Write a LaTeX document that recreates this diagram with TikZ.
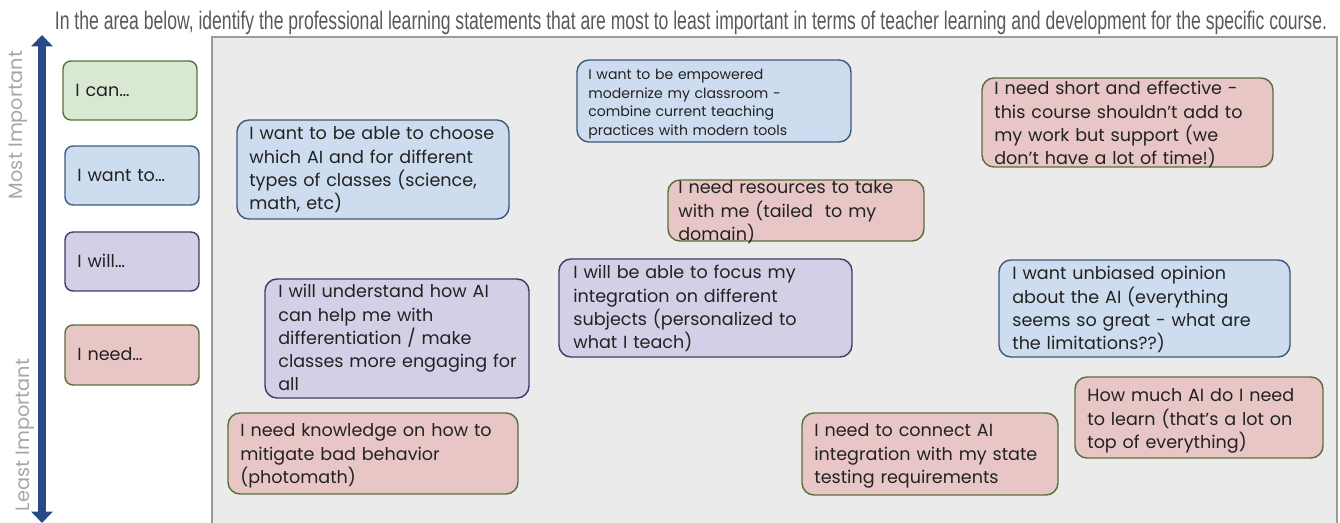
\documentclass[tikz,border=0pt]{standalone}
\usepackage{fontspec}
\setmainfont{Poppins}
\newfontfamily\headfont[FakeStretch=0.69]{Liberation Sans}
\usetikzlibrary{fit}
\usetikzlibrary{calc}
\usetikzlibrary{arrows.meta}
\definecolor{canfill}{HTML}{D9E8D3}
\definecolor{canedge}{HTML}{56703A}
\definecolor{wantfill}{HTML}{CEDCEF}
\definecolor{wantedge}{HTML}{40597F}
\definecolor{willfill}{HTML}{D4CFE6}
\definecolor{willedge}{HTML}{3E3A6A}
\definecolor{needfill}{HTML}{E8C6C5}
\definecolor{neededge}{HTML}{5B6E39}
\definecolor{boardfill}{HTML}{EBEBEB}
\definecolor{boardedge}{HTML}{9A9A9A}
\definecolor{axisblue}{HTML}{284B88}
\definecolor{headgray}{HTML}{595959}
\definecolor{sidegray}{HTML}{A6A6A6}
\definecolor{inkgray}{HTML}{222222}
\newcommand{\cardfont}{\fontsize{10}{13.2}\selectfont}
\newcommand{\cardfontsm}{\fontsize{8}{10.5}\selectfont}
\newcommand{\sidefont}{\fontsize{11}{13}\selectfont}
\newcommand{\headsize}{\fontsize{14.5}{17}\selectfont}
\tikzset{
  card/.style={draw=#1edge, fill=#1fill, line width=0.8pt,
    rounded corners=0.24cm, inner sep=0pt},
  keycard/.style={card=#1, rounded corners=0.16cm},
  cardtext/.style={anchor=base west, inner sep=0pt, text width=6cm,
    align=left, font=\cardfont, text=inkgray},
  board/.style={draw=boardedge, fill=boardfill, line width=0.6pt, inner sep=0pt},
  sidelabel/.style={rotate=90, inner sep=0pt, font=\sidefont, text=sidegray},
  rankaxis/.style={draw=axisblue, line width=4pt,
    {Triangle[width=12pt,length=6.5pt]}-{Triangle[width=12pt,length=6.5pt]}}
}
\begin{document}
\begin{tikzpicture}[x=0.02cm,y=-0.02cm]
  \useasboundingbox (0,0) rectangle (1340,523);

  % heading
  \node[anchor=base, inner sep=0pt, font=\headfont\headsize, text=headgray]
    (heading) at (691,30) {In the area below, identify the professional learning
    statements that are most to least important in terms of teacher learning and
    development for the specific course.};

  % ranking axis on the left
  \coordinate (axtop) at (42,35);
  \coordinate (axbot) at (42,523);
  \draw[rankaxis] (axbot) -- (axtop);
  \node[sidelabel] (most) at (18,125) {Most Important};
  \node[sidelabel] (least) at (25,435) {Least Important};

  % key
  \node[keycard=can, fit={(63,61) (197,120)}] (can) {};
  \node[cardtext] (can-t) at (75,97) {I can…};
  \node[keycard=want, fit={(65,146) (199,205)}] (want) {};
  \node[cardtext] (want-t) at (77,182) {I want to…};
  \node[keycard=will, fit={(65,232) (199,291)}] (will) {};
  \node[cardtext] (will-t) at (77,268) {I will…};
  \node[keycard=need, fit={(65,325) (199,385)}] (need) {};
  \node[cardtext] (need-t) at (77,361) {I need…};

  % sorting area
  \node[board, fit={(212,37) (1337,540)}] (area) {};

  % statements
  \node[card=want, fit={(577,60) (851,142)}] (wantmod) {};
  \node[cardtext, font=\cardfontsm] (wantmod-t) at (588,80)
    {I want to be empowered\\ modernize my classroom -\\
     combine current teaching\\ practices with modern tools};

  \node[card=need, fit={(982,78) (1273,167)}] (needshort) {};
  \node[cardtext] (needshort-t) at (994,95)
    {I need short and effective -\\ this course shouldn’t add to\\
     my work but support (we\\ don’t have a lot of time!)};

  \node[card=want, fit={(237,120) (509,219)}] (wantchoose) {};
  \node[cardtext] (wantchoose-t) at (249,140)
    {I want to be able to choose\\ which AI and for different\\
     types of classes (science,\\ math, etc)};

  \node[card=need, fit={(668,180) (924,241)}] (needres) {};
  \node[cardtext] (needres-t) at (678,194)
    {I need resources to take\\ with me (tailed\ \ to my\\ domain)};

  \node[card=will, fit={(559,259) (852,357)}] (willfocus) {};
  \node[cardtext] (willfocus-t) at (573,279)
    {I will be able to focus my\\ integration on different\\
     subjects (personalized to\\ what I teach)};

  \node[card=want, fit={(999,260) (1290,357)}] (wantfair) {};
  \node[cardtext] (wantfair-t) at (1012,280)
    {I want unbiased opinion\\ about the AI (everything\\
     seems so great - what are\\ the limitations??)};

  \node[card=will, fit={(265,279) (529,398)}] (willdiff) {};
  \node[cardtext] (willdiff-t) at (278,298)
    {I will understand how AI\\ can help me with\\ differentiation / make\\
     classes more engaging for\\ all};

  \node[card=need, fit={(1075,377) (1323,458)}] (needmuch) {};
  \node[cardtext] (needmuch-t) at (1087,402)
    {How much AI do I need\\ to learn (that’s a lot on\\ top of everything)};

  \node[card=need, fit={(802,413) (1058,495)}] (needtest) {};
  \node[cardtext] (needtest-t) at (814,437)
    {I need to connect AI\\ integration with my state\\ testing requirements};

  \node[card=need, fit={(228,413) (518,494)}] (needcheat) {};
  \node[cardtext] (needcheat-t) at (240,437)
    {I need knowledge on how to\\ mitigate bad behavior\\ (photomath)};
\end{tikzpicture}
\end{document}
